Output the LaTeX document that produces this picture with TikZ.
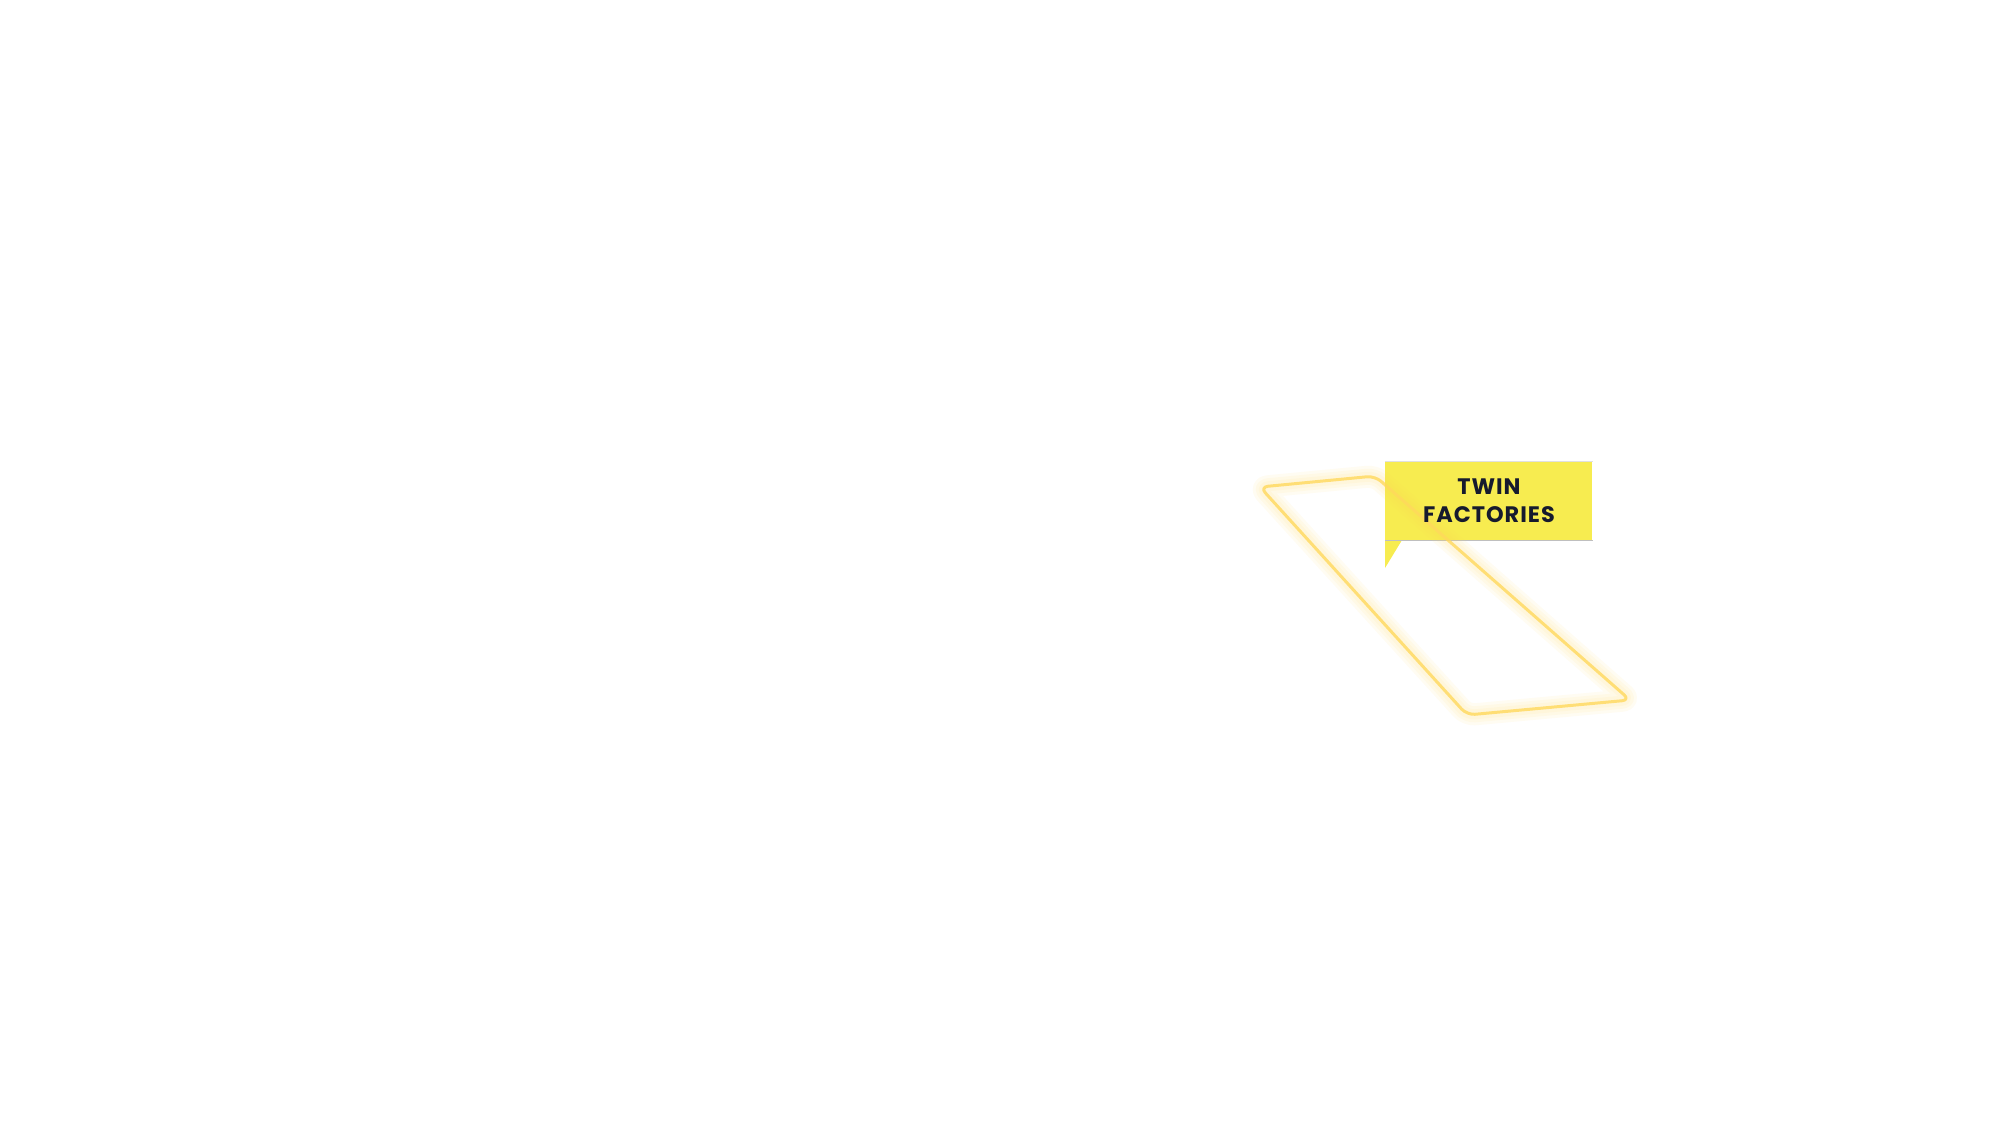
\documentclass[tikz,border=0pt]{standalone}
\usepackage{fontspec}
\setmainfont{Poppins}
\newfontfamily\lblfont[LetterSpace=4.5]{Poppins}
\definecolor{lblyellow}{HTML}{F7EC50}
\definecolor{framey}{HTML}{FFD95C}
\definecolor{ink}{HTML}{161A2E}
\tikzset{
  frameline/.style={draw=framey, line width=1.5pt, rounded corners=4pt, line join=round},
  glow/.style={draw=framey, rounded corners=4pt, line join=round, opacity=0.08},
  labelbox/.style={fill=lblyellow, draw=none, minimum width=103.5pt, minimum height=39.5pt, inner sep=0pt},
  labeltext/.style={inner sep=0pt, align=center, text=ink, font=\lblfont\bfseries\fontsize{11.2}{14}\selectfont}
}
\begin{document}
\begin{tikzpicture}[x=0.5pt,y=-0.5pt]
\fill[white] (0,0) rectangle (2000,1121);
\useasboundingbox (0,0) rectangle (2000,1121);
\coordinate (p1) at (1260,487);
\coordinate (p2) at (1375,476);
\coordinate (p3) at (1630,700);
\coordinate (p4) at (1467,715);
% label box
\node[labelbox, anchor=north west] (lbl) at (1385,461) {};
\fill[lblyellow] (lbl.south west) -- (1385,568) -- (1402,540) -- cycle;
\draw[black!25, line width=0.6pt] (lbl.south west) -- (lbl.south east);
\draw[black!12, line width=0.5pt] (lbl.north west) -- (lbl.north east);
% glow
\foreach \w in {11,8,5} {
  \draw[glow, line width=\w pt] (p1) -- (p2) -- (p3) -- (p4) -- cycle;
}
\draw[frameline, opacity=0.8] (p1) -- (p2) -- (p3) -- (p4) -- cycle;
% text on top
\node[labeltext] (lbltext) at (lbl.center) {TWIN\\FACTORIES};
\end{tikzpicture}
\end{document}
